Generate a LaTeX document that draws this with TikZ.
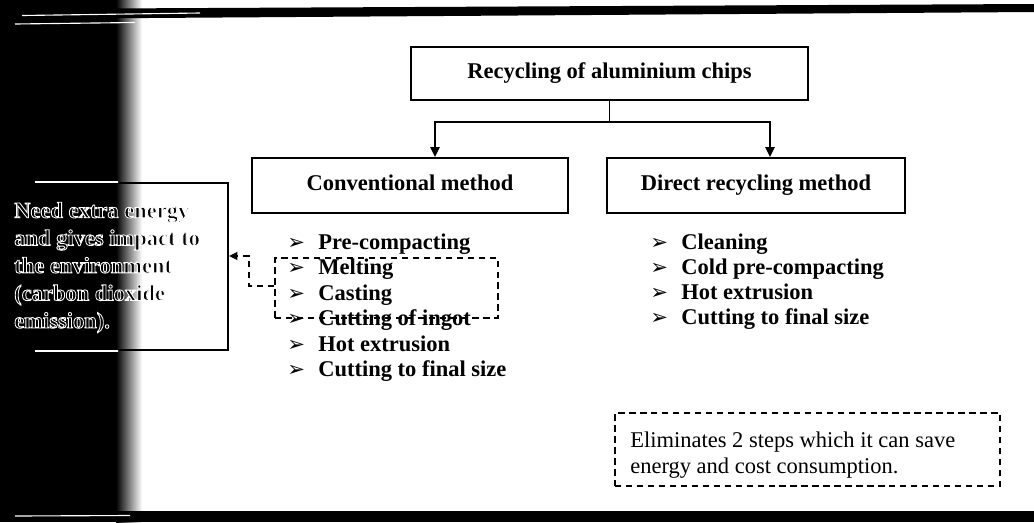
\documentclass[tikz,border=0pt]{standalone}
\usepackage{fontspec}
\setmainfont{Liberation Serif}
\newfontfamily\dvs{DejaVu Sans}
\usetikzlibrary{arrows.meta,calc}
\newcommand\bul{\makebox[0.775cm][l]{\dvs\fontsize{15}{15}\selectfont\raisebox{0pt}{➢}}}
\newcommand\outl{\special{pdf:code 2 Tr 1 G 0.6 w}}
\begin{document}
\begin{tikzpicture}[x=0.025cm,y=-0.025cm,
  box/.style={draw, line width=1.4pt, inner sep=0pt},
  dbox/.style={draw, line width=1.4pt, dash pattern=on 4.5pt off 3.3pt, inner sep=0pt},
  title/.style={font=\fontsize{16}{18}\selectfont\bfseries, text height=11pt, text depth=3.5pt},
  item/.style={anchor=west, inner sep=0pt, font=\fontsize{16}{18}\selectfont\bfseries, text height=11pt, text depth=3.5pt},
  conn/.style={line width=1.4pt},
  arr/.style={line width=1.4pt, -{Triangle[length=7pt,width=6.5pt]}},
  darr/.style={line width=1.4pt, dash pattern=on 4.5pt off 3.3pt, -{Triangle[length=6pt,width=5.5pt]}},
  streak/.style={white, line width=0.8pt}
]
\useasboundingbox (0,0) rectangle (1034,522);
% scanned page shadow and edges
\fill[black] (0,0) rectangle (118,522);
\shade[left color=black, right color=white, draw=none] (116,0) rectangle (142,522);
\fill[black] (0,9) -- (1034,4) -- (1034,12) -- (0,19) -- cycle;
\fill[black] (0,511) rectangle (1034,522);
\draw[streak] (22,15.5) -- (200,13);
\draw[streak] (15,24) -- (135,22.5);
\draw[streak] (15,516) -- (130,515.5);

% tree
\node[box, minimum width=9.925cm, minimum height=1.325cm, title] (top) at (609.5,73.5) {Recycling of aluminium chips};
\node[box, minimum width=7.9cm, minimum height=1.375cm, title] (conv) at (410,185.5) {Conventional method};
\node[box, minimum width=7.45cm, minimum height=1.375cm, title] (direct) at (756,185.5) {Direct recycling method};
\coordinate (split) at (609.5,122);
\draw[conn] (top.south) -- (split);
\draw[arr] (split) -| ($(conv.north)+(25,0)$);
\draw[arr] (split) -| ($(direct.north)+(14,0)$);

% conventional list
\node[item] (c1) at (287,244) {\bul Pre-compacting};
\node[item] (c2) at (287,269.5) {\bul Melting};
\node[item] (c3) at (287,295) {\bul Casting};
\node[item] (c4) at (287,320.5) {\bul Cutting of ingot};
\node[item] (c5) at (287,346) {\bul Hot extrusion};
\node[item] (c6) at (287,371.5) {\bul Cutting to final size};

% direct list
\node[item] (d1) at (650,244) {\bul Cleaning};
\node[item] (d2) at (650,269) {\bul Cold pre-compacting};
\node[item] (d3) at (650,294) {\bul Hot extrusion};
\node[item] (d4) at (650,319) {\bul Cutting to final size};

% grouped steps and note
\node[dbox, minimum width=5.575cm, minimum height=1.5cm] (grp) at (386.5,288) {};
\node[box, minimum width=5.575cm, minimum height=4.175cm] (note) at (116.5,266.5) {};
\begin{scope}
  \clip (35,0) rectangle (118,522);
  \draw[white, line width=1.2pt] (note.north west) -- (note.north east);
  \draw[white, line width=1.2pt] (note.south west) -- (note.south east);
\end{scope}
\draw[darr] ($(grp.west)+(0,-2)$) -- ++(-25,0) |- ($(note.east)+(0,-10.5)$);
\node[anchor=west, align=left, inner sep=0pt, font=\fontsize{16}{19.6}\selectfont\bfseries] (notetext) at (14,267.5) {\outl Need extra energy\\ and gives impact to\\ the environment\\ (carbon dioxide\\ emission).};

% saving note
\node[dbox, minimum width=9.625cm, minimum height=1.825cm] (elim) at (807.5,449.5) {};
\node[anchor=west, align=left, inner sep=0pt, font=\fontsize{16}{18.5}\selectfont] (elimtext) at (630,455) {Eliminates 2 steps which it can save\\ energy and cost consumption.};
\end{tikzpicture}
\end{document}
